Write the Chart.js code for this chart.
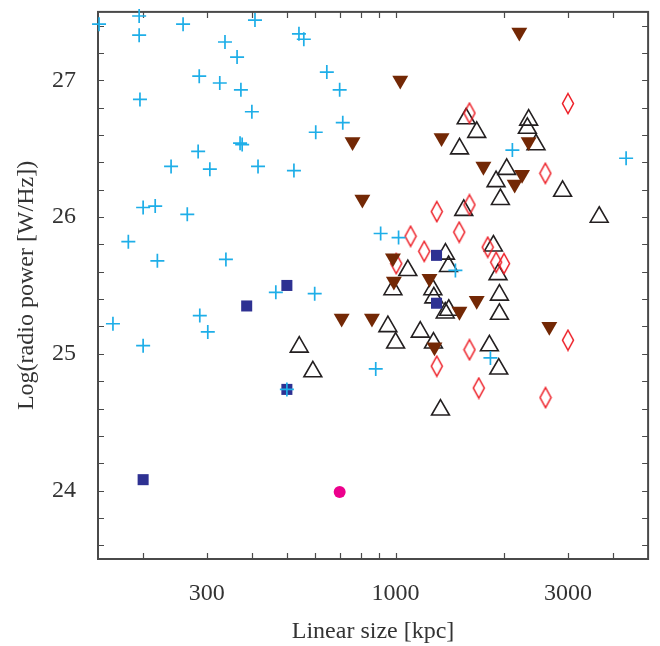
<!DOCTYPE html>
<html><head><meta charset="utf-8">
<script src="https://cdn.jsdelivr.net/npm/chart.js@4.4.1/dist/chart.umd.min.js"></script>
<style>html,body{margin:0;padding:0;background:#fff;}canvas{display:block;}</style>
</head><body>
<canvas id="c" width="660" height="646"></canvas>
<script>
// ---- data (linear size in kpc, log radio power in W/Hz) ----
const crossSize = [151,195,195,258,337,364,408,540,557,645,286,326,373,196,400,700,714,601,371,376,284,239,306,416,523,200,216,265,182,219,339,165,200,287,302,466,597,500,909,1019,1464,881,1830,2105,4346];
const crossPower = [27.41,27.47,27.33,27.41,27.28,27.17,27.44,27.34,27.30,27.06,27.03,26.98,26.93,26.86,26.77,26.93,26.69,26.62,26.54,26.53,26.48,26.37,26.35,26.37,26.34,26.07,26.08,26.02,25.82,25.68,25.69,25.22,25.06,25.28,25.16,25.45,25.44,24.74,25.88,25.85,25.61,24.89,24.97,26.49,26.43];
const squareSize = [500,387,200,500,1298,1298];
const squarePower = [25.50,25.35,24.08,24.74,25.72,25.37];
const circleSize = [700];
const circlePower = [23.99];
const openTriSize = [1568,1677,1503,2335,2316,2447,2030,1897,1950,2899,3661,1544,1865,1374,1401,1081,1921,983,1268,1276,1938,1372,1403,1938,952,1170,1000,1273,1818,541,590,1930,1331];
const openTriPower = [26.72,26.62,26.50,26.71,26.65,26.53,26.35,26.26,26.13,26.19,26.00,26.05,25.79,25.73,25.64,25.61,25.58,25.47,25.47,25.41,25.43,25.30,25.32,25.29,25.20,25.16,25.08,25.08,25.06,25.05,24.87,24.89,24.59];
const filledTriSize = [2200,1030,760,1340,2335,1750,2239,2136,809,983,989,1241,1677,1502,709,860,2664,1281];
const filledTriPower = [27.35,27.00,26.55,26.58,26.55,26.37,26.31,26.24,26.13,25.70,25.53,25.55,25.39,25.31,25.26,25.26,25.20,25.05];
const diamondSize = [1601,3000,2597,1300,1601,1100,1500,1200,1799,1004,1898,1996,3000,1601,1300,1699,2600];
const diamondPower = [26.76,26.83,26.32,26.04,26.09,25.86,25.89,25.75,25.78,25.66,25.67,25.66,25.10,25.03,24.91,24.75,24.68];

const xTickLabels = [300, 1000, 3000];
const yTickLabels = [24, 25, 26, 27];
const xMinorTicks = [200,300,400,500,600,700,800,900,1000,2000,3000,4000];
const yMinorTicks = [23.6,23.8,24,24.2,24.4,24.6,24.8,25,25.2,25.4,25.6,25.8,26,26.2,26.4,26.6,26.8,27,27.2,27.4];

function pts(xs, ys) { return xs.map((x, i) => ({x: x, y: ys[i]})); }

// tall open diamond marker
const diamond = document.createElement('canvas');
diamond.width = 14; diamond.height = 23;
(function(){
  const d = diamond.getContext('2d');
  d.strokeStyle = '#ed1c24'; d.lineWidth = 1.5;
  d.beginPath(); d.moveTo(7, 1.5); d.lineTo(12.5, 11.5); d.lineTo(7, 21.5); d.lineTo(1.5, 11.5); d.closePath(); d.stroke();
})();

const FONT = "'Liberation Serif', 'DejaVu Serif', serif";
const FRAME = '#4a4a4a';

const frameTicks = {
  id: 'frameTicks',
  beforeDatasetsDraw(chart) {
    const {ctx, chartArea: a, scales: {x, y}} = chart;
    ctx.save();
    ctx.strokeStyle = FRAME;
    ctx.lineWidth = 1.2;
    const L = 6;
    ctx.beginPath();
    xMinorTicks.forEach(v => {
      const px = Math.round(x.getPixelForValue(v)) + 0.5;
      ctx.moveTo(px, a.bottom); ctx.lineTo(px, a.bottom - L);
      ctx.moveTo(px, a.top); ctx.lineTo(px, a.top + L);
    });
    yMinorTicks.forEach(v => {
      const py = Math.round(y.getPixelForValue(v)) + 0.5;
      ctx.moveTo(a.left, py); ctx.lineTo(a.left + L, py);
      ctx.moveTo(a.right, py); ctx.lineTo(a.right - L, py);
    });
    ctx.stroke();
    ctx.lineWidth = 2;
    ctx.strokeRect(a.left, a.top, a.right - a.left, a.bottom - a.top);
    ctx.restore();
  }
};

new Chart(document.getElementById('c'), {
  type: 'scatter',
  data: {
    datasets: [
      {data: pts(circleSize, circlePower), pointStyle: 'circle', pointRadius: 6, backgroundColor: '#ec008c', borderColor: '#ec008c', borderWidth: 0},
      {data: pts(crossSize, crossPower), pointStyle: 'cross', pointRadius: 7, borderColor: '#1eaee8', borderWidth: 1.7},
      {data: pts(squareSize, squarePower), pointStyle: 'rect', pointRadius: 7.8, backgroundColor: '#2e3192', borderColor: '#2e3192', borderWidth: 0},
      {data: pts(filledTriSize, filledTriPower), pointStyle: 'triangle', rotation: 180, pointRadius: 9.2, backgroundColor: '#732805', borderColor: '#732805', borderWidth: 0},
      {data: pts(diamondSize, diamondPower), pointStyle: diamond, pointRadius: 7},
      {data: pts(openTriSize, openTriPower), pointStyle: 'triangle', pointRadius: 10.3, backgroundColor: 'rgba(0,0,0,0)', borderColor: '#231f20', borderWidth: 1.6}
    ]
  },
  options: {
    responsive: false,
    animation: false,
    clip: false,
    layout: {padding: {left: 0, right: 11, top: 9, bottom: 0}},
    plugins: {legend: {display: false}, tooltip: {enabled: false}},
    elements: {point: {hoverRadius: 0}},
    scales: {
      x: {
        type: 'logarithmic', min: 150, max: 5000,
        grid: {display: false, drawTicks: false},
        border: {display: false},
        afterBuildTicks: s => { s.ticks = xTickLabels.map(v => ({value: v})); },
        afterFit: s => { s.height = 87; s.paddingLeft = 0; s.paddingRight = 0; },
        ticks: {autoSkip: false, maxRotation: 0, padding: 20, color: '#333', font: {family: FONT, size: 24}, callback: v => String(v)},
        title: {display: true, text: 'Linear size [kpc]', color: '#333', font: {family: FONT, size: 24}, padding: {top: 0, bottom: 0}}
      },
      y: {
        type: 'linear', min: 23.5, max: 27.5,
        grid: {display: false, drawTicks: false},
        border: {display: false},
        afterBuildTicks: s => { s.ticks = yTickLabels.map(v => ({value: v})); },
        afterFit: s => { s.width = 98; s.paddingTop = 0; s.paddingBottom = 0; },
        ticks: {autoSkip: false, padding: 22, color: '#333', font: {family: FONT, size: 24}, callback: v => String(v)},
        title: {display: true, text: 'Log(radio power [W/Hz])', color: '#333', font: {family: FONT, size: 24}, padding: {top: 12, bottom: 0}}
      }
    }
  },
  plugins: [frameTicks]
});
</script>
</body></html>
